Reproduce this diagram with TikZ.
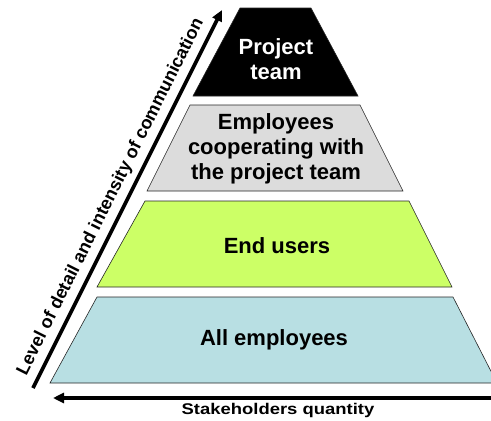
\documentclass[tikz,border=0pt]{standalone}
\usepackage{fontspec}
\setmainfont{Liberation Sans}
\usetikzlibrary{arrows.meta}
\definecolor{tiergray}{RGB}{220,220,220}
\definecolor{tiergreen}{RGB}{204,255,102}
\definecolor{tierblue}{RGB}{184,223,227}
\begin{document}
\begin{tikzpicture}[x=1pt,y=-1pt,
  tier/.style={draw=black!85, line width=0.6pt},
  tierlabel/.style={font=\fontsize{22}{25}\selectfont\bfseries, align=center, inner sep=0pt},
  axis/.style={line width=3.2pt, -{Triangle[length=11pt,width=10pt]}},
  axislabel/.style={inner sep=0pt, anchor=base}]
\useasboundingbox (0,0) rectangle (491,421);
\begin{scope}
  \clip (0,0) rectangle (491,421);
  % pyramid tiers, top to bottom
  \filldraw[tier, fill=black] (240,8) -- (311,8) -- (358,96) -- (193,96) -- cycle;
  \filldraw[tier, fill=tiergray] (190,105) -- (360,105) -- (403,191) -- (147,191) -- cycle;
  \filldraw[tier, fill=tiergreen] (145,201) -- (409,201) -- (452,287) -- (97,287) -- cycle;
  \filldraw[tier, fill=tierblue] (97,297) -- (453,297) -- (497,383) -- (50,383) -- cycle;
\end{scope}

% tier labels
\node[tierlabel, text=white] (team) at (276,59) {Project\\team};
\node[tierlabel] (coop) at (276,149) {Employees\\cooperating with\\the project team};
\node[tierlabel] (users) at (277,246) {End users};
\node[tierlabel] (all) at (274,340) {All employees};

% axes
\coordinate (vstart) at (33,388);
\coordinate (vend) at (222,10);
\draw[axis, line width=3.6pt] (vstart) -- (vend);
\coordinate (hstart) at (495,398);
\coordinate (hend) at (53,398);
\draw[axis] (hstart) -- (hend);

\node[axislabel, rotate=63.4, font=\fontsize{18}{20}\selectfont\bfseries] (detail) at (115,199)
  {Level of detail and intensity of communication};
\node[axislabel, font=\fontsize{15.5}{17}\selectfont\bfseries] (quantity) at (278,414.5)
  {\scalebox{1.19}[1]{Stakeholders quantity}};
\end{tikzpicture}
\end{document}
